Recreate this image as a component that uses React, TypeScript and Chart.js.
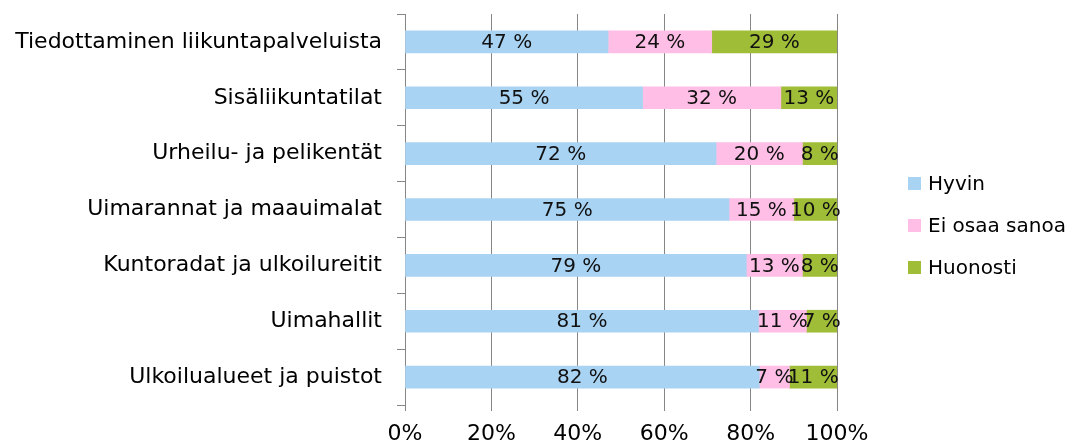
import { useEffect, useRef } from "react";
import { Chart, registerables } from "chart.js";
Chart.register(...registerables);

const categories = [
  "Tiedottaminen liikuntapalveluista",
  "Sisäliikuntatilat",
  "Urheilu- ja pelikentät",
  "Uimarannat ja maauimalat",
  "Kuntoradat ja ulkoilureitit",
  "Uimahallit",
  "Ulkoilualueet ja puistot",
];
const hyvin = [47, 55, 72, 75, 79, 81, 82];
const eiOsaaSanoa = [24, 32, 20, 15, 13, 11, 7];
const huonosti = [29, 13, 8, 10, 8, 7, 11];
const seriesNames = ["Hyvin", "Ei osaa sanoa", "Huonosti"];
const seriesColors = ["#A9D3F3", "#FFBEE6", "#A0BD38"];
const xTickValues = [0, 20, 40, 60, 80, 100];

const FONT = "'DejaVu Sans', Verdana, sans-serif";
const GRID = "#868686";

export default function App() {
  const ref = useRef<HTMLCanvasElement | null>(null);

  useEffect(() => {
    if (!ref.current) return;
    const raw = [hyvin, eiOsaaSanoa, huonosti];
    const totals = categories.map((_, i) => raw.reduce((s, arr) => s + arr[i], 0));

    const labelPlugin = {
      id: "segLabels",
      afterDatasetsDraw(chart: any) {
        const ctx = chart.ctx;
        ctx.save();
        ctx.font = `20px ${FONT}`;
        ctx.fillStyle = "#111";
        ctx.textAlign = "center";
        ctx.textBaseline = "middle";
        chart.data.datasets.forEach((ds: any, di: number) => {
          const meta = chart.getDatasetMeta(di);
          meta.data.forEach((el: any, i: number) => {
            const p = el.getProps(["x", "base", "y"], true);
            ctx.fillText(`${ds.rawValues[i]} %`, (p.x + p.base) / 2, p.y + 1);
          });
        });
        ctx.restore();
      },
    };

    const legendPlugin = {
      id: "customLegend",
      afterDraw(chart: any) {
        const ctx = chart.ctx;
        ctx.save();
        ctx.font = `20px ${FONT}`;
        ctx.textAlign = "left";
        ctx.textBaseline = "middle";
        chart.data.datasets.forEach((ds: any, i: number) => {
          const cy = 183.5 + i * 42;
          ctx.fillStyle = ds.backgroundColor;
          ctx.fillRect(908, cy - 6.5, 13, 13);
          ctx.fillStyle = "#000";
          ctx.fillText(ds.label, 928, cy + 1);
        });
        ctx.restore();
      },
    };

    const chart = new Chart(ref.current, {
      type: "bar",
      data: {
        labels: categories,
        datasets: raw.map((arr, si) => ({
          label: seriesNames[si],
          data: arr.map((v, i) => (v / totals[i]) * 100),
          rawValues: arr,
          backgroundColor: seriesColors[si],
          borderWidth: 0,
          barThickness: 22,
        })) as any,
      },
      options: {
        indexAxis: "y",
        responsive: false,
        animation: false,
        layout: { padding: { top: 14, right: 246, left: 0, bottom: 0 } },
        plugins: {
          legend: { display: false },
          tooltip: { enabled: false },
        },
        scales: {
          x: {
            stacked: true,
            min: 0,
            max: 100,
            afterBuildTicks(scale: any) {
              scale.ticks = xTickValues.map((v) => ({ value: v }));
            },
            afterFit(scale: any) {
              scale.height = 40;
              scale.paddingLeft = 0;
              scale.paddingRight = 0;
            },
            grid: { color: GRID, lineWidth: 1, tickLength: 6, drawTicks: true },
            border: { display: false },
            ticks: {
              color: "#000",
              font: { family: FONT, size: 22 },
              padding: 10,
              callback: (v: any) => `${v}%`,
            },
          },
          y: {
            stacked: true,
            afterFit(scale: any) {
              scale.width = 405;
              scale.paddingTop = 0;
              scale.paddingBottom = 0;
            },
            grid: {
              offset: true,
              drawOnChartArea: false,
              drawTicks: true,
              tickLength: 8,
              color: GRID,
            },
            border: { display: true, color: GRID, width: 1 },
            ticks: {
              color: "#000",
              font: { family: FONT, size: 22 },
              padding: 15,
            },
          },
        },
      },
      plugins: [labelPlugin, legendPlugin],
    });
    return () => chart.destroy();
  }, []);

  return (
    <div style={{ position: "absolute", left: 0, top: 0, width: 1083, height: 445, background: "#fff" }}>
      <canvas ref={ref} width={1083} height={445} style={{ display: "block" }} />
    </div>
  );
}
